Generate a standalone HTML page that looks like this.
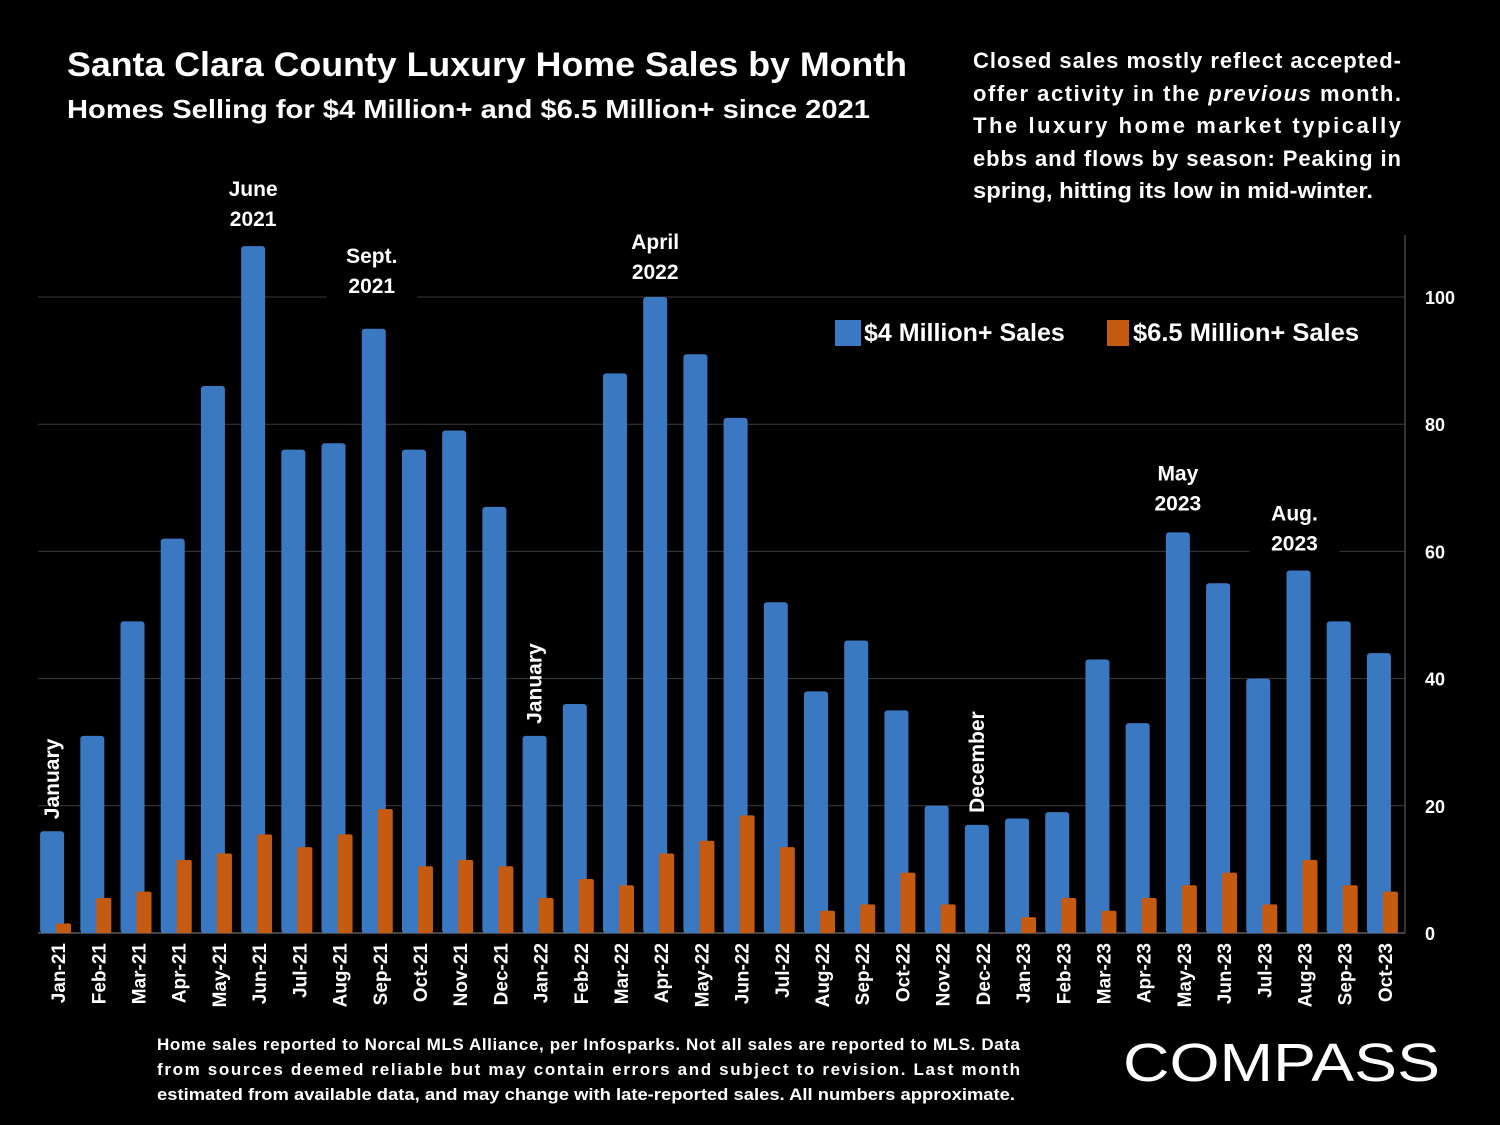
<!DOCTYPE html>
<html><head><meta charset="utf-8"><style>
body{margin:0;background:#000;width:1500px;height:1125px;overflow:hidden;font-family:"Liberation Sans",sans-serif;color:#fff}
svg{position:absolute;left:0;top:0}
</style></head><body>
<svg width="1500" height="1125" xmlns="http://www.w3.org/2000/svg">
<g id="grid"></g>
<g id="bars"></g>
<g id="axis"></g>
<g id="ann"></g>
<text x="67" y="76" font-size="34" font-weight="bold" fill="#fff" textLength="840" lengthAdjust="spacingAndGlyphs">Santa Clara County Luxury Home Sales by Month</text>
<text x="67" y="118" font-size="26" font-weight="bold" fill="#fff" textLength="803" lengthAdjust="spacingAndGlyphs">Homes Selling for $4 Million+ and $6.5 Million+ since 2021</text>
<g font-size="22" font-weight="bold" fill="#fff">
<text x="973" y="68" textLength="428" lengthAdjust="spacing">Closed sales mostly reflect accepted-</text>
<text x="973" y="101" textLength="428" lengthAdjust="spacing">offer activity in the <tspan font-style="italic">previous</tspan> month.</text>
<text x="973" y="133" textLength="428" lengthAdjust="spacing">The luxury home market typically</text>
<text x="973" y="166" textLength="428" lengthAdjust="spacing">ebbs and flows by season: Peaking in</text>
<text x="973" y="198" textLength="400" lengthAdjust="spacingAndGlyphs">spring, hitting its low in mid-winter.</text>
</g>
<g>
<rect x="835" y="320" width="26" height="26" fill="#3a78c2"/>
<text x="864" y="341" font-size="25" font-weight="bold" fill="#fff">$4 Million+ Sales</text>
<rect x="1107" y="320" width="22" height="26" fill="#c55a11"/>
<text x="1133" y="341" font-size="25" font-weight="bold" fill="#fff" textLength="226" lengthAdjust="spacingAndGlyphs">$6.5 Million+ Sales</text>
</g>
<g font-size="17" font-weight="bold" fill="#fff">
<text x="157" y="1050" textLength="863" lengthAdjust="spacing">Home sales reported to Norcal MLS Alliance, per Infosparks. Not all sales are reported to MLS. Data</text>
<text x="157" y="1075" textLength="863" lengthAdjust="spacing">from sources deemed reliable but may contain errors and subject to revision.  Last month</text>
<text x="157" y="1100" textLength="858" lengthAdjust="spacingAndGlyphs">estimated from available data, and may change with late-reported sales. All numbers approximate.</text>
</g>
<text x="1123" y="1081" font-size="54" fill="#fff" textLength="317" lengthAdjust="spacingAndGlyphs">COMPASS</text>
</svg>
<script>
const categories=["Jan-21","Feb-21","Mar-21","Apr-21","May-21","Jun-21","Jul-21","Aug-21","Sep-21","Oct-21","Nov-21","Dec-21","Jan-22","Feb-22","Mar-22","Apr-22","May-22","Jun-22","Jul-22","Aug-22","Sep-22","Oct-22","Nov-22","Dec-22","Jan-23","Feb-23","Mar-23","Apr-23","May-23","Jun-23","Jul-23","Aug-23","Sep-23","Oct-23"];
const sales4m=[16,31,49,62,86,108,76,77,95,76,79,67,31,36,88,100,91,81,52,38,46,35,20,17,18,19,43,33,63,55,40,57,49,44];
const sales65m=[1.5,5.5,6.5,11.5,12.5,15.5,13.5,15.5,19.5,10.5,11.5,10.5,5.5,8.5,7.5,12.5,14.5,18.5,13.5,3.5,4.5,9.5,4.5,0,2.5,5.5,3.5,5.5,7.5,9.5,4.5,11.5,7.5,6.5];
const yTicks=[0,20,40,60,80,100];
const NS="http://www.w3.org/2000/svg";
const x0=38,x1=1405,slot=(x1-x0)/categories.length;
const y=v=>933-v*6.36;
const cx=i=>x0+slot*(i+0.5);
function mk(t,a,p){const e=document.createElementNS(NS,t);for(const k in a)e.setAttribute(k,a[k]);p.appendChild(e);return e;}
const grid=document.getElementById('grid'),bars=document.getElementById('bars'),axis=document.getElementById('axis'),ann=document.getElementById('ann');
yTicks.forEach(t=>{
 const l=mk('line',{x1:x0,x2:x1,y1:y(t),y2:y(t),stroke:t===0?'#888':'#3a3a3a','stroke-width':1},grid);
 
 
 const tx=mk('text',{x:1425,y:y(t)+7,'font-size':18,'font-weight':'bold',fill:'#fff'},axis);
 tx.textContent=t;
 
 
});
mk('line',{x1:x1,x2:x1,y1:235,y2:933,stroke:'#666'},axis);
categories.forEach((c,i)=>{
 const c0=cx(i);
 const b=mk('rect',{x:c0-18,y:y(sales4m[i]),width:24,height:933-y(sales4m[i]),rx:3,fill:'#3a78c2'},bars);
 
 
 if(sales65m[i]>0){
 const o=mk('rect',{x:c0-2,y:y(sales65m[i]),width:15,height:933-y(sales65m[i]),rx:2,fill:'#c55a11'},bars);
 
 }
 const t=mk('text',{x:0,y:0,'font-size':19,'font-weight':'bold',fill:'#fff','text-anchor':'end',transform:`translate(${c0+7},943) rotate(-90)`},axis);
 t.textContent=c;
 
 
});
function label(lines,i,val,off,dx){
 const c0=cx(i)-6+(dx||0),top=y(val)-off-lines.length*30;
 mk('rect',{x:c0-45,y:top-4,width:90,height:lines.length*30+4,fill:'#000'},ann);
 lines.forEach((s,k)=>{const t=mk('text',{x:c0,y:top+22+k*30,'font-size':21,'font-weight':'bold',fill:'#fff','text-anchor':'middle'},ann);t.textContent=s;
 
 });
}
label(["June","2021"],5,sales4m[5],12);
label(["Sept.","2021"],8,sales4m[8],28,-2);
label(["April","2022"],15,sales4m[15],10);
label(["May","2023"],28,sales4m[28],14);
label(["Aug.","2023"],31,sales4m[31],12,-4);
function vlabel(s,i,val){const c0=cx(i)-6,yy=y(val)-12;
 const t=mk('text',{x:0,y:0,'font-size':21,'font-weight':'bold',fill:'#fff',transform:`translate(${c0+7},${yy}) rotate(-90)`},ann);t.textContent=s;
 
 }
vlabel("January",0,sales4m[0]);
vlabel("January",12,sales4m[12]);
vlabel("December",23,sales4m[23]);
</script>
</body></html>
